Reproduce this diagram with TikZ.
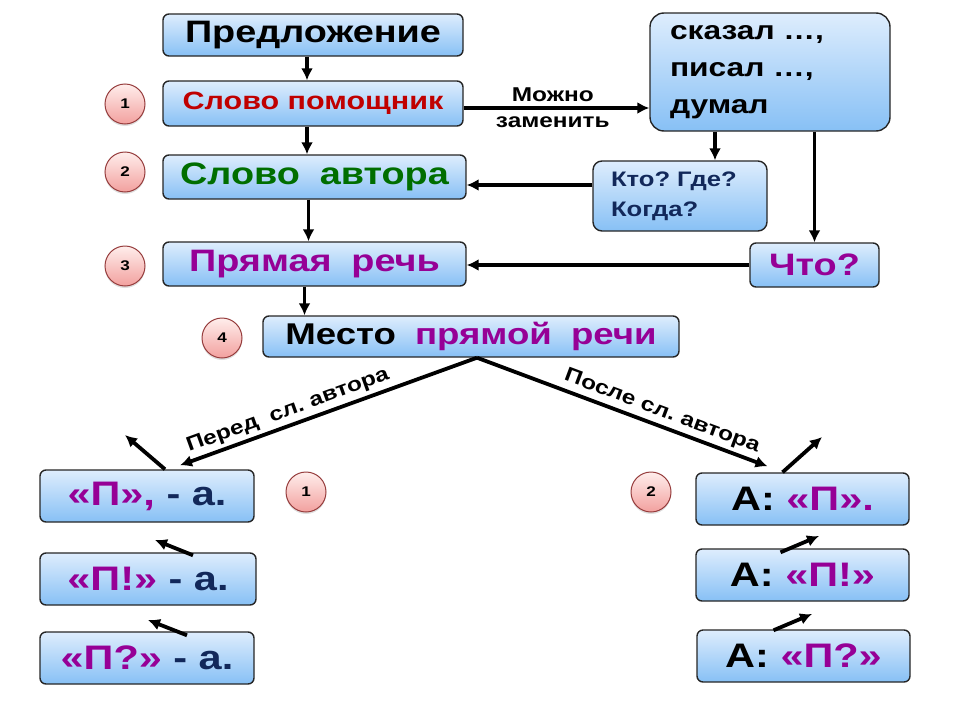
\documentclass[tikz,border=0pt]{standalone}
\usepackage{fontspec}
\setmainfont{Liberation Sans}[FakeStretch=1.22]
\usetikzlibrary{arrows.meta,shadows}
\frenchspacing
\definecolor{boxtop}{RGB}{222,237,253}
\definecolor{boxbot}{RGB}{135,192,245}
\definecolor{redword}{RGB}{192,0,0}
\definecolor{greenword}{RGB}{0,110,0}
\definecolor{purpleword}{RGB}{150,0,150}
\definecolor{navyword}{RGB}{18,40,90}
\definecolor{circtop}{RGB}{255,238,236}
\definecolor{circbot}{RGB}{242,160,158}
\definecolor{circline}{RGB}{150,60,60}
\tikzset{box/.style={draw=black!85, line width=1.4pt, rounded corners=6pt,
    top color=boxtop, bottom color=boxbot, inner sep=0pt, font=\bfseries},
  num/.style={circle, minimum size=40pt, inner sep=0pt, draw=circline, line width=1pt,
    top color=circtop, bottom color=circbot, font=\bfseries\fontsize{14}{14}\selectfont,
    drop shadow={shadow xshift=0pt, shadow yshift=-2pt, opacity=0.25}},
  arr/.style={-{Latex[length=12pt,width=12pt]}, line width=3.8pt},}

\begin{document}
\begin{tikzpicture}[x=1pt, y=-1pt]
  \useasboundingbox (0,0) rectangle (960,720);
  % main column
  \node[box, minimum width=300pt, minimum height=42pt, font=\bfseries\fontsize{31}{36}\selectfont] (0) at (313,35) {Предложение};
  \node[box, minimum width=300pt, minimum height=45pt, text=redword, font=\bfseries\fontsize{25}{30}\selectfont] (1) at (313,103.5) {Слово помощник};
  \node[box, minimum width=303pt, minimum height=44pt, text=greenword, font=\bfseries\fontsize{31}{36}\selectfont] (2) at (314.5,177) {Слово\hspace{0.3em} автора};
  \node[box, minimum width=303pt, minimum height=44pt, text=purpleword, font=\bfseries\fontsize{31}{36}\selectfont] (3) at (314.5,264) {Прямая\hspace{0.3em} речь};
  \node[box, minimum width=416pt, minimum height=41pt, font=\bfseries\fontsize{30}{36}\selectfont] (4) at (471,336.5) {Место\hspace{0.3em} \textcolor{purpleword}{прямой\hspace{0.3em} речи}};
  % right column
  \node[box, rounded corners=14pt, minimum height=118pt, text width=200pt, inner xsep=20pt, align=left, font=\bfseries\fontsize{26}{37}\selectfont] (5) at (770,72) {сказал …,\\писал …,\\думал};
  \node[box, rounded corners=9pt, minimum height=70pt, text width=138pt, inner xsep=18pt, align=left, text=navyword, font=\bfseries\fontsize{21}{30}\selectfont] (6) at (680,196) {Кто? Где?\\Когда?};
  \node[box, minimum width=129pt, minimum height=44pt, text=purpleword, font=\bfseries\fontsize{31}{36}\selectfont] (7) at (814.5,265) {Что?};
  % before the author's words
  \node[box, minimum width=214pt, minimum height=52pt, text=navyword, font=\bfseries\fontsize{34}{36}\selectfont] (8) at (147,496) {\textcolor{purpleword}{«П»,} - а.};
  \node[box, minimum width=216pt, minimum height=52pt, text=navyword, font=\bfseries\fontsize{34}{36}\selectfont] (9) at (148,579) {\textcolor{purpleword}{«П!»} - а.};
  \node[box, minimum width=214pt, minimum height=52pt, text=navyword, font=\bfseries\fontsize{34}{36}\selectfont] (10) at (147,658) {\textcolor{purpleword}{«П?»} - а.};
  % after the author's words
  \node[box, minimum width=213pt, minimum height=52pt, font=\bfseries\fontsize{34}{36}\selectfont] (11) at (802.5,499) {А: \textcolor{purpleword}{«П».}};
  \node[box, minimum width=213pt, minimum height=52pt, font=\bfseries\fontsize{34}{36}\selectfont] (12) at (802.5,575) {А: \textcolor{purpleword}{«П!»}};
  \node[box, minimum width=213pt, minimum height=52pt, font=\bfseries\fontsize{34}{36}\selectfont] (13) at (803.5,656) {А: \textcolor{purpleword}{«П?»}};
  % numbers
  \node[num] (c1) at (125,104) {1};
  \node[num] (c2) at (125,172) {2};
  \node[num] (c3) at (125,266) {3};
  \node[num] (c4) at (222,338) {4};
  \node[num] (c5) at (306,492) {1};
  \node[num] (c6) at (651,492) {2};
  % free ends of the small arrows
  \coordinate (a8) at (125,435);
  \coordinate (a9) at (155,540);
  \coordinate (a10) at (148,620);
  \coordinate (a11) at (822,437);
  \coordinate (a12) at (819,536);
  \coordinate (a13) at (812,614);
  \draw[arr] ([xshift=-6pt]0.south) -- ([xshift=-6pt]1.north);
  \draw[arr] ([xshift=-6pt]1.south) -- ([xshift=-6pt]1.south |- 2.north);
  \draw[arr] ([xshift=-6pt]2.south) -- ([xshift=-6pt]2.south |- 3.north);
  \draw[arr] ([xshift=-10pt]3.south) -- ([xshift=-10pt]3.south |- 4.north);
  \draw[arr] ([yshift=-4.5pt]1.east) -- ([yshift=-4.5pt]1.east -| 5.west)
    node[pos=0.48, above=1pt, font=\bfseries\fontsize{20}{22}\selectfont] {Можно}
    node[pos=0.48, below=4pt, font=\bfseries\fontsize{20}{22}\selectfont] {заменить};
  \draw[arr] ([xshift=35pt]6.north |- 5.south) -- ([xshift=35pt]6.north);
  \draw[arr] (5.south -| 7.north) -- (7.north);
  \draw[arr] ([yshift=11pt]6.west) -- ([yshift=11pt]6.west -| 2.east);
  \draw[arr] (7.west) -- (7.west -| 3.east);
  \draw[arr] ([xshift=6pt]4.south) -- ([xshift=33pt,yshift=4pt]8.north)
    node[pos=0.62, sloped, above=0pt, font=\bfseries\fontsize{20}{22}\selectfont] {Перед\hspace{0.3em} сл. автора};
  \draw[arr] ([xshift=6pt]4.south) -- ([xshift=-35pt,yshift=6pt]11.north)
    node[pos=0.62, sloped, above=0pt, font=\bfseries\fontsize{20}{22}\selectfont] {После сл. автора};
  \draw[arr] ([xshift=18pt]8.north) -- (a8);
  \draw[arr] ([xshift=45pt,yshift=-3pt]9.north) -- (a9);
  \draw[arr] ([xshift=40pt,yshift=-4pt]10.north) -- (a10);
  \draw[arr] ([xshift=-20pt]11.north) -- (a11);
  \draw[arr] ([xshift=-22pt,yshift=-4pt]12.north) -- (a12);
  \draw[arr] ([xshift=-30pt,yshift=-1pt]13.north) -- (a13);
\end{tikzpicture}
\end{document}
